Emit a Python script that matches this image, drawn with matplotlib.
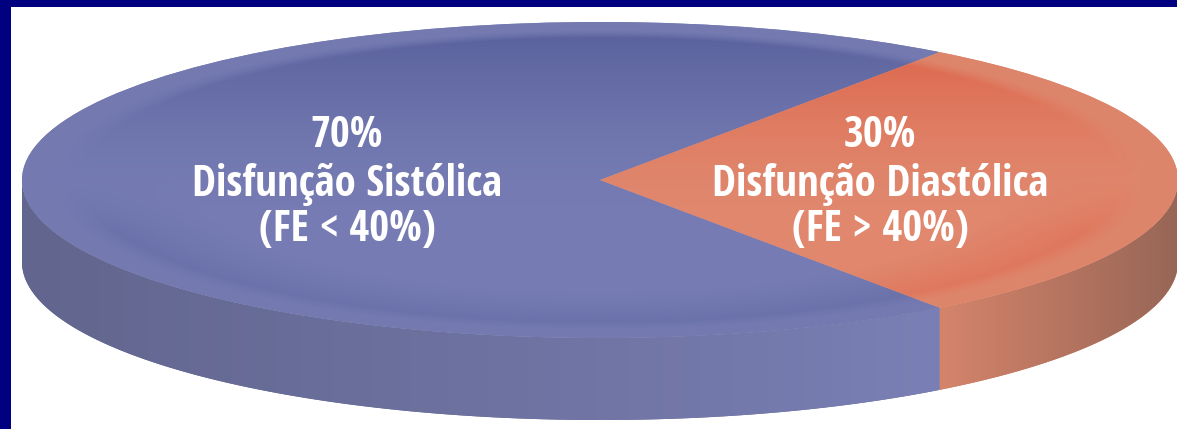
import numpy as np
import matplotlib.pyplot as plt
import matplotlib.colors as mcolors
from matplotlib import font_manager
from matplotlib.transforms import Affine2D
from matplotlib.patches import Polygon, Rectangle

# slices of the disc
values = [70, 30]
pct_labels = ['70%', '30%']
names = ['Disfunção Sistólica', 'Disfunção Diastólica']
criteria = ['(FE < 40%)', '(FE > 40%)']

face_cols = ['#767cb3', '#e0876d']
dark_cols = ['#545c98', '#dc5a40']
side_stops = [
    [(0.0, '#62668e'), (0.55, '#6e73a2'), (1.0, '#7a7fb5')],
    [(0.0, '#d5846b'), (1.0, '#976656')],
]

W, H = 1177, 429
cx, cy = 600, 180      # centre of the top face
rx, ry = 578, 158      # radii of the top face
depth = 82             # thickness of the disc
navy = '#000080'

fig = plt.figure(figsize=(W / 100, H / 100), dpi=100)
ax = fig.add_axes([0, 0, 1, 1])

wedges, _ = ax.pie(values, colors=face_cols, startangle=54,
                   wedgeprops=dict(linewidth=0))
ax.set_aspect('auto')
ell = Affine2D().scale(rx, -ry).translate(cx, cy) + ax.transData


def front_spans(t1, t2):
    # part of a wedge that faces the viewer (lower half of the ellipse)
    for lo, hi in [(180, 360), (540, 720)]:
        a, b = max(t1, lo), min(t2, hi)
        if a < b:
            yield a, b


def hgrad(stops, x0, x1, clip, z):
    xs = np.arange(W) + 0.5
    pos = [x0 + p * (x1 - x0) for p, _ in stops]
    cols = np.array([mcolors.to_rgb(c) for _, c in stops])
    img = np.stack([np.interp(xs, pos, cols[:, k]) for k in range(3)], axis=-1)[None]
    im = ax.imshow(img, extent=(0, W, H, 0), aspect='auto', zorder=z,
                   interpolation='bilinear')
    im.set_clip_path(clip)


# side of the disc
for w, stops in zip(wedges, side_stops):
    for a, b in front_spans(w.theta1, w.theta2):
        t = np.radians(np.linspace(a, b, 300))
        xs = cx + rx * np.cos(t)
        ys = cy - ry * np.sin(t)
        pts = np.column_stack([np.r_[xs, xs[::-1]], np.r_[ys, ys[::-1] + depth]])
        side = Polygon(pts, closed=True, facecolor=stops[0][1], linewidth=0,
                       zorder=2)
        ax.add_patch(side)
        hgrad(stops, xs.min(), xs.max(), side, 2.5)

# top face with a soft recessed centre
Y, X = np.mgrid[0:H, 0:W] + 0.5
u = (X - cx) / rx
v = (Y - cy) / ry
r = np.hypot(u, v)
inner = np.clip((0.95 - r) / 0.05, 0, 1)
upper = np.clip(-v * 0.9 + 0.15, 0, 1) ** 1.6
lower = np.clip((r - 0.72) / 0.2, 0, 1) * np.clip(v * 3, 0, 1)
k = inner * np.clip(0.85 * upper + 0.35 * lower, 0, 1)
rim = 1 - inner

for w, fc, dc in zip(wedges, face_cols, dark_cols):
    w.set_transform(ell)
    w.set_zorder(3)
    base = np.array(mcolors.to_rgb(fc))
    dark = np.array(mcolors.to_rgb(dc))
    light = np.clip(base * 0.97, 0, 1)
    img = base * (1 - k[..., None]) + dark * k[..., None]
    img = img * (1 - 0.4 * rim[..., None]) + light * 0.4 * rim[..., None]
    im = ax.imshow(img, extent=(0, W, H, 0), aspect='auto', zorder=3.5,
                   interpolation='bilinear')
    im.set_clip_path(w)

# labels: narrow face if one is installed
known = {f.name for f in font_manager.fontManager.ttflist}
narrow = [n for n in ['Liberation Sans Narrow', 'Noto Sans Condensed',
                      'Open Sans Condensed', 'Roboto Condensed',
                      'DejaVu Sans Condensed'] if n in known]
font = narrow[:1] + ['Open Sans', 'DejaVu Sans']
size = 31 if narrow else 24
for xc, p, n, c in zip([347, 880], pct_labels, names, criteria):
    for txt, yb in zip([p, n, c], [147, 196, 241]):
        ax.text(xc, yb, txt, ha='center', va='baseline', color='white',
                fontsize=size, fontweight='semibold', family=font,
                fontstretch='condensed', zorder=5)

# frame of the slide
ax.add_patch(Rectangle((0, 0), 11, H, facecolor=navy, linewidth=0, zorder=6))
ax.add_patch(Rectangle((0, 0), W, 7, facecolor=navy, linewidth=0, zorder=6))

ax.set_xlim(0, W)
ax.set_ylim(H, 0)
ax.axis('off')
fig.savefig('out.png', dpi=100, facecolor='white')
